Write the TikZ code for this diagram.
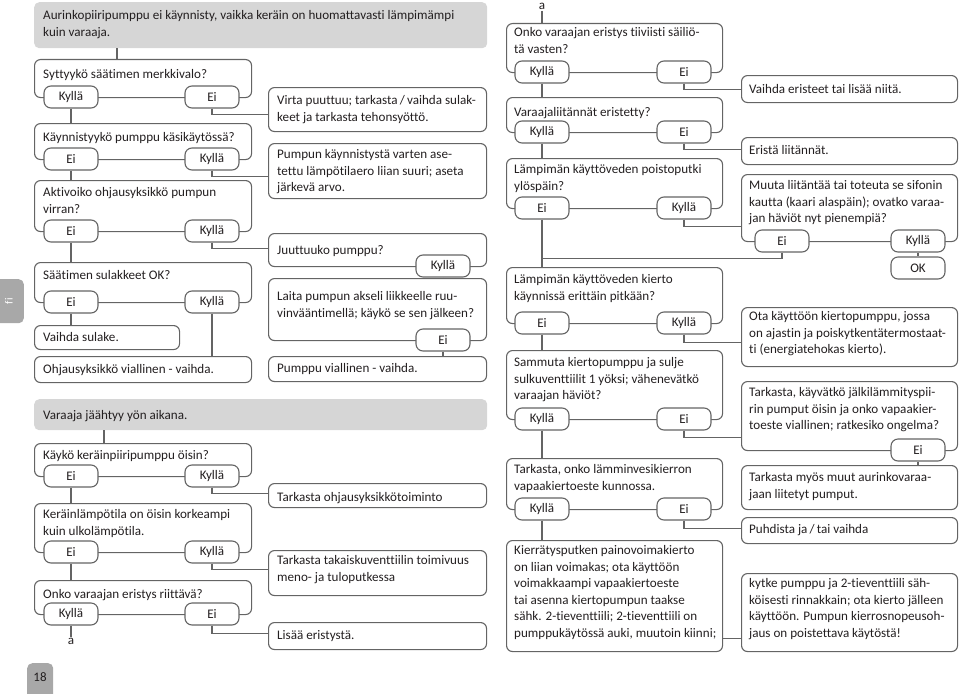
\documentclass[tikz,border=0pt]{standalone}
\usepackage{fontspec}
\setmainfont{Carlito}[Ligatures=NoCommon]
\definecolor{linec}{RGB}{100,100,100}
\definecolor{txtc}{RGB}{35,31,32}
\definecolor{hdrc}{RGB}{214,214,214}
\definecolor{tabc}{RGB}{168,168,168}
\newcommand{\mkbox}[5]{\node[frame, minimum width={#4-#2}, minimum height={#5-#3}] (#1) at (#2,#3) {};}
\newcommand{\mkpill}[4]{\node[pill] (#1) at (#2,#3) {#4};}
\tikzset{
  frame/.style={draw=linec, line width=1.1pt, rounded corners=6pt, inner sep=0pt, anchor=north west},
  hdr/.style={fill=hdrc, rounded corners=5pt, inner sep=0pt, anchor=north west},
  pill/.style={draw=linec, fill=white, line width=1.1pt, rounded corners=7pt, minimum width=54pt, minimum height=22pt, inner sep=0pt, text=txtc},
  txt/.style={anchor=north west, yshift=11.55pt, align=left, inner sep=0pt, text=txtc, execute at begin node={\strut}},
  conn/.style={draw=linec, line width=1.1pt},
}
\begin{document}
\begin{tikzpicture}[x=1pt, y=-1pt, font=\fontsize{13.1}{16.5}\selectfont]
\useasboundingbox (0,0) rectangle (960,693);
% ---------- headers and tabs
\node[hdr, minimum width=453, minimum height=46] (h1) at (34,2) {};
\node[hdr, minimum width=453, minimum height=31] (h2) at (34,399) {};
\node[fill=tabc, rounded corners=5pt, minimum width=30, minimum height=44, inner sep=0pt, anchor=north east] (tabfi) at (24,279) {};
\node[rotate=90, text=white, inner sep=0pt] (tabfit) at (tabfi.center) {\fontsize{11}{12}\selectfont fi};
\node[fill=tabc, rounded corners=5pt, minimum width=26, minimum height=40, inner sep=0pt, anchor=north west] (tab18) at (27,663) {};
\node[text=txtc, inner sep=0pt] (tab18t) at (40,677) {\fontsize{13}{15}\selectfont 18};
% ---------- frames: left column
\mkbox{q1}{34}{59}{251}{97}
\mkbox{q2}{34}{123}{251}{159}
\mkbox{q3}{34}{180}{251}{231}
\mkbox{q4}{34}{262}{251}{302}
\mkbox{vs}{34}{325}{179}{349}
\mkbox{ov}{34}{356}{251}{382}
\mkbox{q5}{34}{443}{251}{476}
\mkbox{q6}{34}{503}{251}{552}
\mkbox{q7}{34}{580}{251}{614}
% middle column
\mkbox{vp}{268}{87}{486}{131}
\mkbox{pk}{268}{143}{486}{198}
\mkbox{m3}{268}{233}{486}{266}
\mkbox{m4}{268}{278}{486}{340}
\mkbox{pv}{268}{356}{486}{381}
\mkbox{to}{268}{483}{486}{507}
\mkbox{tt}{268}{550}{486}{595}
\mkbox{le}{268}{622}{486}{649}
% right-middle column
\mkbox{r1}{506}{23}{722}{72}
\mkbox{r2}{506}{97}{722}{132}
\mkbox{r3}{506}{158}{722}{208}
\mkbox{r4}{506}{267}{722}{323}
\mkbox{r5}{506}{350}{722}{419}
\mkbox{r6}{506}{458}{722}{509}
\mkbox{kp}{506}{540}{722}{651}
% right column
\mkbox{ve}{741}{75}{957}{102}
\mkbox{el}{741}{137}{957}{164}
\mkbox{s3}{741}{174}{957}{241}
\mkbox{ok}{741}{307}{957}{366}
\mkbox{s5}{741}{381}{957}{450}
\mkbox{tm}{741}{465}{957}{509}
\mkbox{pu}{741}{517}{957}{543}
\mkbox{ky}{741}{573}{957}{651}
% ---------- texts (coordinates = first baseline)
\node[txt] (h1t) at (43,22) {Aurinkopiiripumppu ei käynnisty, vaikka keräin on huomattavasti lämpimämpi\\kuin varaaja.};
\node[txt] (q1t) at (43,78) {Syttyykö säätimen merkkivalo?};
\node[txt] (q2t) at (43,141) {Käynnistyykö pumppu käsikäytössä?};
\node[txt] (q3t) at (43,199) {Aktivoiko ohjausyksikkö pumpun\\virran?};
\node[txt] (q4t) at (43,279) {Säätimen sulakkeet OK?};
\node[txt] (vst) at (43,341) {Vaihda sulake.};
\node[txt] (ovt) at (43,373) {Ohjausyksikkö viallinen - vaihda.};
\node[txt] (h2t) at (43,419) {Varaaja jäähtyy yön aikana.};
\node[txt] (q5t) at (43,459) {Käykö keräinpiiripumppu öisin?};
\node[txt] (q6t) at (43,521) {Keräinlämpötila on öisin korkeampi\\kuin ulkolämpötila.};
\node[txt] (q7t) at (43,598) {Onko varaajan eristys riittävä?};
\node[txt] (vpt) at (277,107) {Virta puuttuu; tarkasta\,/\,vaihda sulak-\\keet ja tarkasta tehonsyöttö.};
\node[txt] (pkt) at (277,161) {Pumpun käynnistystä varten ase-\\tettu lämpötilaero liian suuri; aseta\\järkevä arvo.};
\node[txt] (m3t) at (277,254) {Juuttuuko pumppu?};
\node[txt] (m4t) at (277,303) {Laita pumpun akseli liikkeelle ruu-\\vinvääntimellä; käykö se sen jälkeen?};
\node[txt] (pvt) at (277,372) {Pumppu viallinen - vaihda.};
\node[txt] (tot) at (277,501) {Tarkasta ohjausyksikkötoiminto};
\node[txt] (ttt) at (277,567) {Tarkasta takaiskuventtiilin toimivuus\\meno- ja tuloputkessa};
\node[txt] (let) at (277,639) {Lisää eristystä.};
\node[txt] (r1t) at (514,39) {Onko varaajan eristys tiiviisti säiliö-\\tä vasten?};
\node[txt] (r2t) at (514,116) {Varaajaliitännät eristetty?};
\node[txt] (r3t) at (514,176) {Lämpimän käyttöveden poistoputki\\ylöspäin?};
\node[txt] (r4t) at (514,286) {Lämpimän käyttöveden kierto\\käynnissä erittäin pitkään?};
\node[txt] (r5t) at (514,369) {Sammuta kiertopumppu ja sulje\\sulkuventtiilit 1 yöksi; vähenevätkö\\varaajan häviöt?};
\node[txt] (r6t) at (514,476) {Tarkasta, onko lämminvesikierron\\vapaakiertoeste kunnossa.};
\node[txt] (kpt) at (514,557) {Kierrätysputken painovoimakierto\\on liian voimakas; ota käyttöön\\voimakkaampi vapaakiertoeste\\tai asenna kiertopumpun taakse\\sähk. 2-tieventtiili; 2-tieventtiili on\\pumppukäytössä auki, muutoin kiinni;};
\node[txt] (vet) at (749,93) {Vaihda eristeet tai lisää niitä.};
\node[txt] (elt) at (749,154) {Eristä liitännät.};
\node[txt] (s3t) at (749,192) {Muuta liitäntää tai toteuta se sifonin\\kautta (kaari alaspäin); ovatko varaa-\\jan häviöt nyt pienempiä?};
\node[txt] (okt) at (749,323) {Ota käyttöön kiertopumppu, jossa\\on ajastin ja poiskytkentätermostaat-\\ti (energiatehokas kierto).};
\node[txt] (s5t) at (749,399) {Tarkasta, käyvätkö jälkilämmityspii-\\rin pumput öisin ja onko vapaakier-\\toeste viallinen; ratkesiko ongelma?};
\node[txt] (tmt) at (749,484) {Tarkasta myös muut aurinkovaraa-\\jaan liitetyt pumput.};
\node[txt] (put) at (749,533) {Puhdista ja\,/\,tai vaihda};
\node[txt] (kyt) at (749,590) {kytke pumppu ja 2-tieventtiili säh-\\köisesti rinnakkain; ota kierto jälleen\\käyttöön. Pumpun kierrosnopeusoh-\\jaus on poistettava käytöstä!};
% ---------- pills
\mkpill{q1a}{71}{97}{Kyllä}  \mkpill{q1b}{212}{97}{Ei}
\mkpill{q2a}{71}{159}{Ei}    \mkpill{q2b}{212}{159}{Kyllä}
\mkpill{q3a}{71}{231}{Ei}    \mkpill{q3b}{212}{231}{Kyllä}
\mkpill{q4a}{71}{302}{Ei}    \mkpill{q4b}{212}{302}{Kyllä}
\mkpill{q5a}{71}{476}{Ei}    \mkpill{q5b}{212}{476}{Kyllä}
\mkpill{q6a}{71}{552}{Ei}    \mkpill{q6b}{212}{552}{Kyllä}
\mkpill{q7a}{71}{614}{Kyllä} \mkpill{q7b}{212}{614}{Ei}
\mkpill{m3b}{443}{266}{Kyllä}
\mkpill{m4b}{443}{340}{Ei}
\mkpill{r1a}{542}{72}{Kyllä}  \mkpill{r1b}{684}{72}{Ei}
\mkpill{r2a}{542}{132}{Kyllä} \mkpill{r2b}{684}{132}{Ei}
\mkpill{r3a}{542}{208}{Ei}    \mkpill{r3b}{684}{208}{Kyllä}
\mkpill{r4a}{542}{323}{Ei}    \mkpill{r4b}{684}{323}{Kyllä}
\mkpill{r5a}{542}{419}{Kyllä} \mkpill{r5b}{684}{419}{Ei}
\mkpill{r6a}{542}{509}{Kyllä} \mkpill{r6b}{684}{509}{Ei}
\mkpill{s3a}{782}{241}{Ei}    \mkpill{s3b}{918}{241}{Kyllä}
\mkpill{okp}{918}{268}{OK}
\mkpill{s5b}{918}{450}{Ei}
% "a" markers
\node[text=txtc, inner sep=1pt, anchor=north] (aL) at (71,637) {a};
\node[text=txtc, inner sep=1pt, anchor=south] (aR) at (542,11) {a};
% ---------- connectors
\draw[conn] ([xshift=83pt]q1.north west) -- ([xshift=83pt]q1.north west |- h1.south);
\draw[conn] ([xshift=70pt]q5.north west) -- ([xshift=70pt]q5.north west |- h2.south);
% vertical
\draw[conn] (q1a.south) -- (q1a.south |- q2.north);
\draw[conn] (q2a.south) -- (q2a.south |- q3.north);
\draw[conn] (q3a.south) -- (q3a.south |- q4.north);
\draw[conn] (q4a.south) -- (q4a.south |- vs.north);
\draw[conn] (q4b.south) -- (q4b.south |- ov.north);
\draw[conn] (q5a.south) -- (q5a.south |- q6.north);
\draw[conn] (q6a.south) -- (q6a.south |- q7.north);
\draw[conn] (q7a.south) -- (aL.north);
\draw[conn] (m3b.south) -- (m3b.south |- m4.north);
\draw[conn] (m4b.south) -- (m4b.south |- pv.north);
\draw[conn] (aR.south) -- (aR.south |- r1.north);
\draw[conn] (r1a.south) -- (r1a.south |- r2.north);
\draw[conn] (r2a.south) -- (r2a.south |- r3.north);
\draw[conn] (r3a.south) -- (r3a.south |- r4.north);
\draw[conn] (r4a.south) -- (r4a.south |- r5.north);
\draw[conn] (r5a.south) -- (r5a.south |- r6.north);
\draw[conn] (r6a.south) -- (r6a.south |- kp.north);
\draw[conn] (s3b.south) -- (okp.north);
\draw[conn] (s5b.south) -- (s5b.south |- tm.north);
% elbows
\draw[conn] (q1b.south) |- ([yshift=-6pt]vp.west |- q1b.south);
\draw[conn] (q2b.south) |- ([yshift=-6pt]pk.west |- q2b.south);
\draw[conn] (q3b.south) |- ([yshift=-6pt]m3.west |- q3b.south);
\draw[conn] (q5b.south) |- ([yshift=-6pt]to.west |- q5b.south);
\draw[conn] (q6b.south) |- ([yshift=-6pt]tt.west |- q6b.south);
\draw[conn] (q7b.south) |- ([yshift=-8pt]le.west |- q7b.south);
\draw[conn] (r1b.south) |- ([yshift=-6pt]ve.west |- r1b.south);
\draw[conn] (r2b.south) |- ([yshift=-6pt]el.west |- r2b.south);
\draw[conn] (r3b.south) |- ([yshift=-7pt]s3.west |- r3b.south);
\draw[conn] (r4b.south) |- ([yshift=-8pt]ok.west |- r4b.south);
\draw[conn] (r5b.south) |- ([yshift=-7pt]s5.west |- r5b.south);
\draw[conn] (r6b.south) |- ([yshift=-8pt]pu.west |- r6b.south);
\draw[conn] (s3a.south) |- ([yshift=-6pt]r3a.south |- s3a.south);
\draw[conn] ([yshift=14pt]kp.south east) -- ([yshift=14pt]ky.south west);
\end{tikzpicture}
\end{document}
